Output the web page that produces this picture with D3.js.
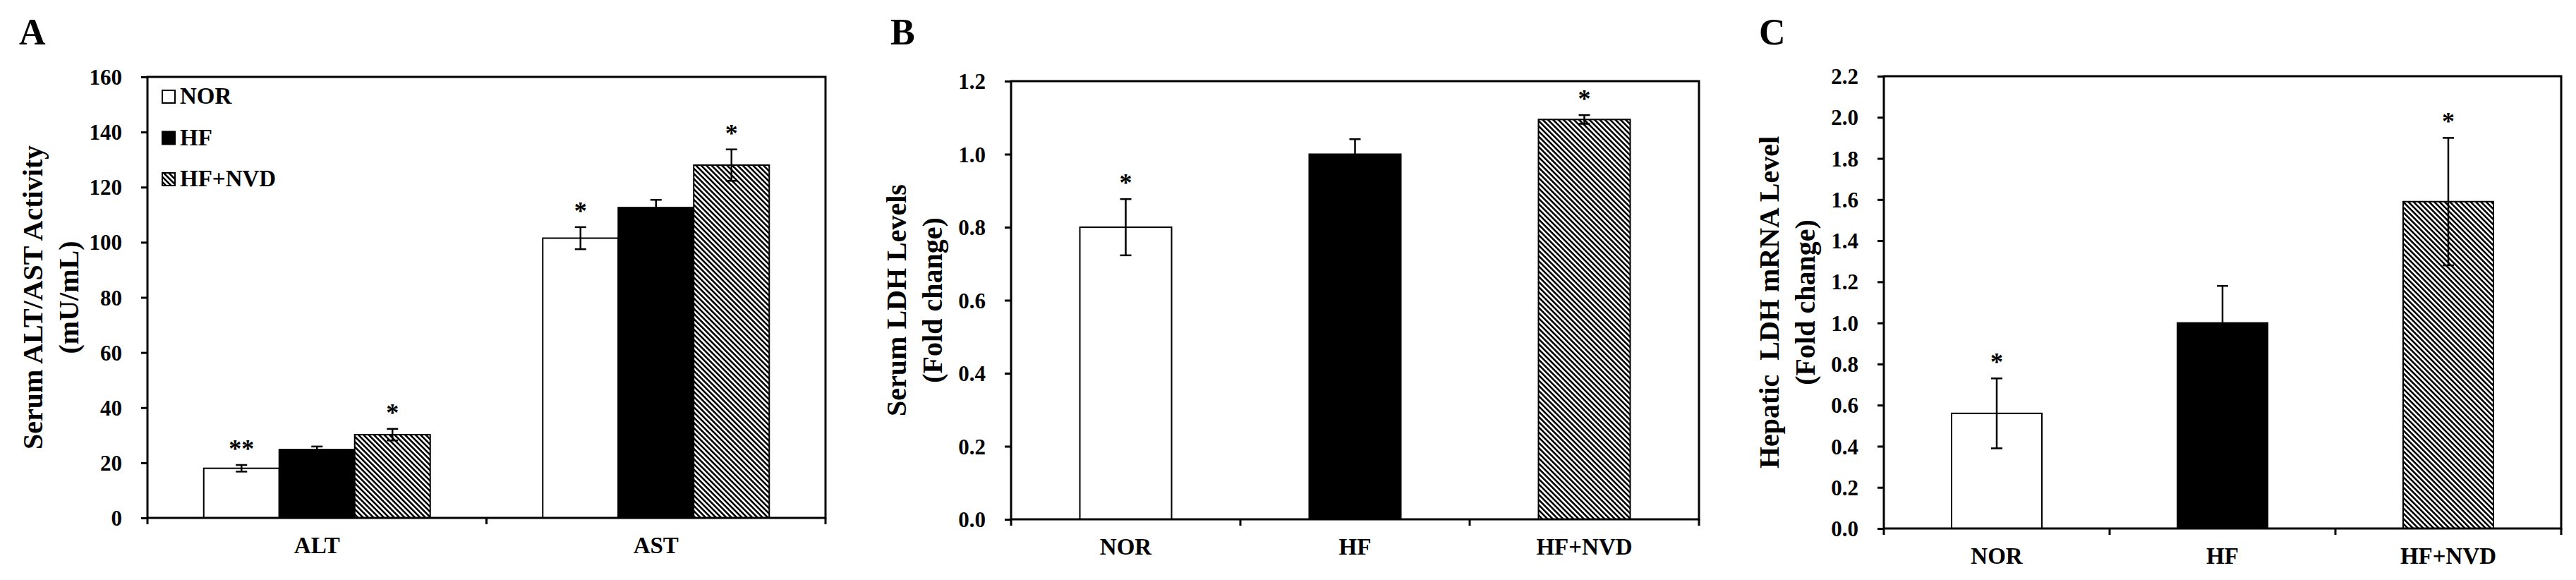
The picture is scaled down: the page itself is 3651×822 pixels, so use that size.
<!DOCTYPE html>
<html>
<head>
<meta charset="utf-8">
<script src="https://cdn.jsdelivr.net/npm/d3@7"></script>
<style>
  body { margin: 0; background: #fff; }
  text { font-family: "Liberation Serif", "Times New Roman", serif; font-weight: bold; fill: #000; }
</style>
</head>
<body>
<svg id="fig" width="3651" height="822"></svg>
<script>
// treatment groups (same in every panel)
const groups = ["NOR", "HF", "HF+NVD"];

// panel A: serum ALT / AST activity (mU/mL)
const enzymes = ["ALT", "AST"];
const altMeans = [18, 24.8, 30.2];
const altErrs = [1.2, 1.1, 2.1];
const altSig = ["**", "", "*"];
const astMeans = [101.5, 112.6, 128];
const astErrs = [4.0, 2.8, 5.7];
const astSig = ["*", "", "*"];
const aTicks = [0, 20, 40, 60, 80, 100, 120, 140, 160];

// panel B: serum LDH (fold change)
const ldhMeans = [0.80, 1.00, 1.095];
const ldhErrs = [0.077, 0.041, 0.012];
const ldhSig = ["*", "", "*"];
const bTicks = [0, 0.2, 0.4, 0.6, 0.8, 1.0, 1.2];

// panel C: hepatic LDH mRNA (fold change)
const mrnaMeans = [0.56, 1.00, 1.59];
const mrnaErrs = [0.17, 0.18, 0.31];
const mrnaSig = ["*", "", "*"];
const cTicks = [0, 0.2, 0.4, 0.6, 0.8, 1.0, 1.2, 1.4, 1.6, 1.8, 2.0, 2.2];

const svg = d3.select("#fig");

// hatch for HF+NVD
const pat = svg.append("defs").append("pattern")
    .attr("id", "hatch")
    .attr("patternUnits", "userSpaceOnUse")
    .attr("width", 5.2).attr("height", 10)
    .attr("patternTransform", "rotate(-45)");
pat.append("rect").attr("width", 5.2).attr("height", 10).attr("fill", "#fff");
pat.append("rect").attr("width", 2.6).attr("height", 10).attr("fill", "#000");

const fills = {"NOR": "#fff", "HF": "#000", "HF+NVD": "url(#hatch)"};

// axes + frame + titles for one panel, returns scales
function drawFrame(p) {
    const y = d3.scaleLinear()
        .domain([0, p.ticks[p.ticks.length - 1]])
        .range([p.bottom, p.top]);
    const x = d3.scaleBand().domain(p.cats).range([p.left, p.right]);

    const yAxis = svg.append("g")
        .attr("transform", "translate(" + p.left + ",0)")
        .call(d3.axisLeft(y).tickValues(p.ticks).tickSize(9).tickPadding(27).tickFormat(p.fmt));
    yAxis.select(".domain").remove();
    yAxis.selectAll("line").attr("stroke", "#000").attr("stroke-width", 3);
    yAxis.selectAll("text").style("font-size", "31px").attr("dy", "0.34em");

    const xAxis = svg.append("g")
        .attr("transform", "translate(0," + p.bottom + ")")
        .call(d3.axisBottom(x).tickSize(0).tickPadding(27));
    xAxis.select(".domain").remove();
    xAxis.selectAll("text").style("font-size", "33px");

    // ticks sit on the category boundaries
    const bounds = d3.range(p.cats.length + 1).map(i => p.left + i * x.step());
    svg.append("g").selectAll("line").data(bounds).enter().append("line")
        .attr("x1", d => d).attr("x2", d => d)
        .attr("y1", p.bottom).attr("y2", p.bottom + 9)
        .attr("stroke", "#000").attr("stroke-width", 3);

    // y title, two lines
    const cy = (p.top + p.bottom) / 2;
    p.title.forEach(function (t, i) {
        svg.append("text")
            .attr("transform", "translate(" + (p.left - (i === 0 ? 149 : 98)) + "," + cy + ") rotate(-90)")
            .attr("text-anchor", "middle")
            .style("font-size", "40px")
            .style("white-space", "pre")
            .text(t);
    });

    svg.append("text")
        .attr("x", p.letterX).attr("y", 63)
        .style("font-size", "52px")
        .text(p.letter);

    return {x: x, y: y};
}

function drawBars(g, y, rows) {
    g.selectAll("rect.bar").data(rows).enter().append("rect")
        .attr("class", "bar")
        .attr("x", d => d.x).attr("width", d => d.w)
        .attr("y", d => y(d.mean)).attr("height", d => y(0) - y(d.mean))
        .attr("fill", d => fills[d.group])
        .attr("stroke", "#000").attr("stroke-width", 2);

    const eb = g.selectAll("g.err").data(rows).enter().append("g")
        .attr("class", "err")
        .attr("stroke", "#000").attr("stroke-width", 2.5);
    eb.append("line")
        .attr("x1", d => d.x + d.w / 2).attr("x2", d => d.x + d.w / 2)
        .attr("y1", d => y(d.mean - d.err)).attr("y2", d => y(d.mean + d.err));
    eb.append("line")
        .attr("x1", d => d.x + d.w / 2 - 8).attr("x2", d => d.x + d.w / 2 + 8)
        .attr("y1", d => y(d.mean + d.err)).attr("y2", d => y(d.mean + d.err));
    eb.append("line")
        .attr("x1", d => d.x + d.w / 2 - 8).attr("x2", d => d.x + d.w / 2 + 8)
        .attr("y1", d => y(d.mean - d.err)).attr("y2", d => y(d.mean - d.err));

    g.selectAll("text.sig").data(rows.filter(d => d.sig)).enter().append("text")
        .attr("class", "sig")
        .attr("x", d => d.x + d.w / 2)
        .attr("y", d => y(d.mean + d.err) - 11)
        .attr("text-anchor", "middle")
        .style("font-size", "36px")
        .text(d => d.sig);
}

function box(p) {
    svg.append("rect")
        .attr("x", p.left).attr("y", p.top)
        .attr("width", p.right - p.left).attr("height", p.bottom - p.top)
        .attr("fill", "none").attr("stroke", "#000").attr("stroke-width", 3);
}

// ---- panel A ----
const pA = {left: 209, right: 1170, top: 109, bottom: 734, cats: enzymes, ticks: aTicks,
    fmt: d3.format("d"), title: ["Serum ALT/AST Activity", "(mU/mL)"], letter: "A", letterX: 27};
const sA = drawFrame(pA);
const gw = sA.x.bandwidth() * 0.668;
const inner = d3.scaleBand().domain(groups).range([0, gw]);
const aRows = [];
[[altMeans, altErrs, altSig], [astMeans, astErrs, astSig]].forEach(function (set, ci) {
    groups.forEach(function (grp, gi) {
        aRows.push({
            group: grp,
            x: sA.x(enzymes[ci]) + (sA.x.bandwidth() - gw) / 2 + inner(grp),
            w: inner.bandwidth(),
            mean: set[0][gi], err: set[1][gi], sig: set[2][gi]
        });
    });
});
drawBars(svg.append("g"), sA.y, aRows);
box(pA);

// legend
const leg = svg.append("g").selectAll("g").data(groups).enter().append("g")
    .attr("transform", (d, i) => "translate(230," + (128 + i * 58.5) + ")");
leg.append("rect").attr("width", 18).attr("height", 18)
    .attr("fill", d => fills[d]).attr("stroke", "#000").attr("stroke-width", 2);
leg.append("text").attr("x", 25).attr("y", 19).style("font-size", "33px").text(d => d);

// ---- panel B / C (one bar per group) ----
function simplePanel(p, means, errs, sig) {
    const s = drawFrame(p);
    const w = s.x.bandwidth() * 0.4;
    const rows = groups.map((grp, i) => ({
        group: grp,
        x: s.x(grp) + (s.x.bandwidth() - w) / 2,
        w: w, mean: means[i], err: errs[i], sig: sig[i]
    }));
    drawBars(svg.append("g"), s.y, rows);
    box(p);
}

simplePanel({left: 1433, right: 2408, top: 115, bottom: 736, cats: groups, ticks: bTicks,
    fmt: d3.format(".1f"), title: ["Serum LDH Levels", "(Fold change)"], letter: "B", letterX: 1262},
    ldhMeans, ldhErrs, ldhSig);

simplePanel({left: 2670, right: 3630, top: 108, bottom: 749, cats: groups, ticks: cTicks,
    fmt: d3.format(".1f"), title: ["Hepatic  LDH mRNA Level", "(Fold change)"], letter: "C", letterX: 2493},
    mrnaMeans, mrnaErrs, mrnaSig);
</script>
</body>
</html>
